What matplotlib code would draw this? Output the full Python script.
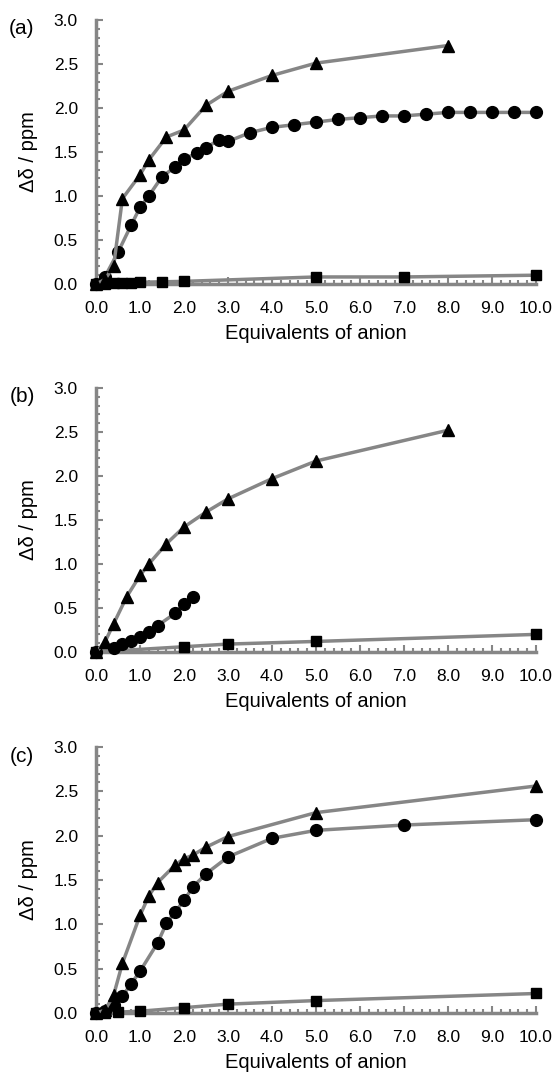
import matplotlib
matplotlib.use("Agg")
import matplotlib.pyplot as plt
from matplotlib.ticker import MultipleLocator, FormatStrFormatter

plt.rcParams['font.family'] = ['Liberation Sans', 'DejaVu Sans']

# ---------------- data ----------------
# panel (a)
a_tri_x = [0, 0.2, 0.4, 0.6, 1.0, 1.2, 1.6, 2.0, 2.5, 3.0, 4.0, 5.0, 8.0]
a_tri_y = [0, 0.05, 0.2, 0.97, 1.24, 1.41, 1.67, 1.75, 2.03, 2.19, 2.37, 2.51, 2.71]
a_cir_x = [0, 0.2, 0.5, 0.8, 1.0, 1.2, 1.5, 1.8, 2.0, 2.3, 2.5, 2.8, 3.0, 3.5, 4.0,
           4.5, 5.0, 5.5, 6.0, 6.5, 7.0, 7.5, 8.0, 8.5, 9.0, 9.5, 10.0]
a_cir_y = [0, 0.08, 0.36, 0.67, 0.87, 1.0, 1.22, 1.33, 1.42, 1.49, 1.55, 1.64, 1.62,
           1.72, 1.78, 1.81, 1.84, 1.87, 1.89, 1.91, 1.91, 1.93, 1.95, 1.95, 1.95, 1.95, 1.95]
a_sq_x = [0, 0.2, 0.4, 0.6, 0.8, 1.0, 1.5, 2.0, 5.0, 7.0, 10.0]
a_sq_y = [0, 0.005, 0.01, 0.01, 0.015, 0.02, 0.025, 0.03, 0.08, 0.08, 0.1]

# panel (b)
b_tri_x = [0, 0.2, 0.4, 0.7, 1.0, 1.2, 1.6, 2.0, 2.5, 3.0, 4.0, 5.0, 8.0]
b_tri_y = [0, 0.11, 0.32, 0.63, 0.87, 1.0, 1.23, 1.42, 1.59, 1.74, 1.97, 2.17, 2.52]
b_cir_x = [0, 0.4, 0.6, 0.8, 1.0, 1.2, 1.4, 1.8, 2.0, 2.2]
b_cir_y = [0, 0.05, 0.09, 0.13, 0.17, 0.23, 0.3, 0.44, 0.55, 0.63]
b_sq_x = [0, 2.0, 3.0, 5.0, 10.0]
b_sq_y = [0, 0.06, 0.09, 0.12, 0.2]

# panel (c)
c_tri_x = [0, 0.2, 0.4, 0.6, 1.0, 1.2, 1.4, 1.8, 2.0, 2.2, 2.5, 3.0, 5.0, 10.0]
c_tri_y = [0, 0.03, 0.2, 0.56, 1.1, 1.32, 1.47, 1.67, 1.74, 1.78, 1.87, 1.99, 2.26, 2.56]
c_cir_x = [0, 0.2, 0.4, 0.6, 0.8, 1.0, 1.4, 1.6, 1.8, 2.0, 2.2, 2.5, 3.0, 4.0, 5.0, 7.0, 10.0]
c_cir_y = [0, 0.02, 0.09, 0.19, 0.33, 0.47, 0.79, 1.01, 1.14, 1.27, 1.42, 1.57, 1.76,
           1.97, 2.06, 2.12, 2.18]
c_sq_x = [0, 0.2, 0.5, 1.0, 2.0, 3.0, 5.0, 10.0]
c_sq_y = [0, 0.005, 0.01, 0.02, 0.06, 0.1, 0.14, 0.22]

panel_labels = ['(a)', '(b)', '(c)']
xlabel_text = 'Equivalents of anion'
ylabel_text = 'Δδ / ppm'

panels = [
    (a_tri_x, a_tri_y, a_cir_x, a_cir_y, a_sq_x, a_sq_y),
    (b_tri_x, b_tri_y, b_cir_x, b_cir_y, b_sq_x, b_sq_y),
    (c_tri_x, c_tri_y, c_cir_x, c_cir_y, c_sq_x, c_sq_y),
]

# ---------------- layout ----------------
W, H = 557, 1076
fig = plt.figure(figsize=(W / 100, H / 100), dpi=100)

left_px, right_px = 96, 536
tops = [20, 388, 747]
bottoms = [284, 652, 1013]

GRAY = '#868686'
LW = 2.5

for i, (tx, ty, cx, cy, sx, sy) in enumerate(panels):
    top, bot = tops[i], bottoms[i]
    ax = fig.add_axes([left_px / W, 1 - bot / H, (right_px - left_px) / W, (bot - top) / H])
    ax.set_xlim(0, 10)
    ax.set_ylim(0, 3.0)

    ax.plot(sx, sy, color=GRAY, lw=LW, marker='s', ms=7, mfc='black', mec='black',
            clip_on=False, zorder=3)
    ax.plot(cx, cy, color=GRAY, lw=LW, marker='o', ms=8.5, mfc='black', mec='black',
            clip_on=False, zorder=4)
    ax.plot(tx, ty, color=GRAY, lw=LW, marker='^', ms=8.5, mfc='black', mec='black',
            clip_on=False, zorder=5)

    for s in ['top', 'right']:
        ax.spines[s].set_visible(False)
    for s in ['left', 'bottom']:
        ax.spines[s].set_color(GRAY)
        ax.spines[s].set_linewidth(2.5)

    ax.xaxis.set_major_locator(MultipleLocator(1.0))
    ax.xaxis.set_minor_locator(MultipleLocator(0.2))
    ax.yaxis.set_major_locator(MultipleLocator(0.5))
    ax.yaxis.set_minor_locator(MultipleLocator(0.1))
    ax.xaxis.set_major_formatter(FormatStrFormatter('%.1f'))
    ax.yaxis.set_major_formatter(FormatStrFormatter('%.1f'))

    ax.tick_params(axis='both', which='major', direction='in', length=5, width=1.5,
                   color=GRAY, labelsize=12.5, labelcolor='black')
    ax.tick_params(axis='both', which='minor', direction='in', length=3, width=1.5,
                   color=GRAY)
    ax.tick_params(axis='x', which='major', pad=12)
    ax.tick_params(axis='y', which='major', pad=13)

    ax.set_xlabel(xlabel_text, fontsize=14.5, labelpad=6)
    ax.patch.set_alpha(0)

    fig.text(22 / W, 1 - (top + 9) / H, panel_labels[i], fontsize=15,
             ha='center', va='center')
    fig.text(29 / W, 1 - ((top + bot) / 2) / H, ylabel_text, fontsize=14.5,
             rotation=90, ha='center', va='center')

fig.savefig('out.png', dpi=100)
